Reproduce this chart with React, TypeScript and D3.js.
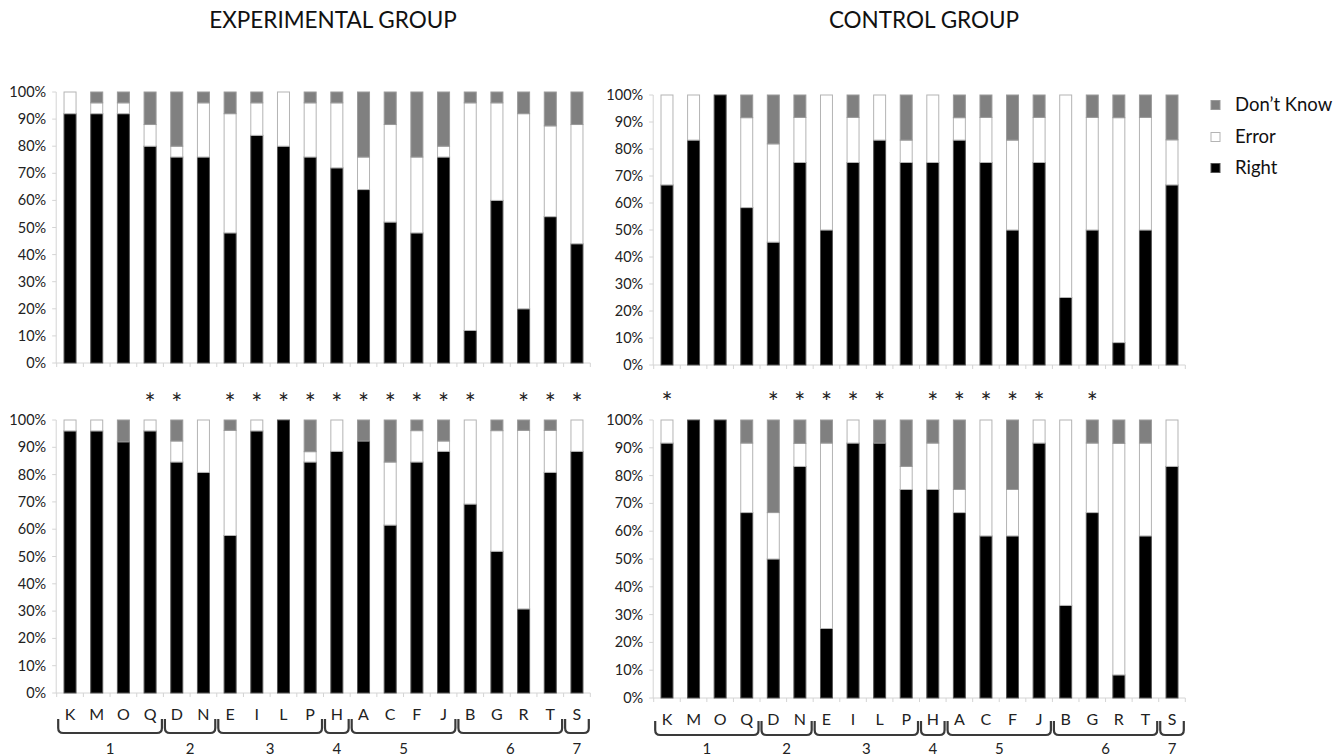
import React, { useEffect, useRef } from 'react';
import * as d3 from 'd3';

// items on the x axis, in order
const categories = ['K', 'M', 'O', 'Q', 'D', 'N', 'E', 'I', 'L', 'P', 'H', 'A', 'C', 'F', 'J', 'B', 'G', 'R', 'T', 'S'];
// group number -> how many consecutive items it covers
const groupLabels = ['1', '2', '3', '4', '5', '6', '7'];
const groupSizes = [4, 2, 4, 1, 4, 4, 1];

const seriesKeys = ['right', 'error', 'dontKnow'];
const legendLabels = ['Don\u2019t Know', 'Error', 'Right'];

// values in percent, one per category
const expTopRight = [92, 92, 92, 80, 76, 76, 48, 84, 80, 76, 72, 64, 52, 48, 76, 12, 60, 20, 54, 44];
const expTopError = [8, 4, 4, 8, 4, 20, 44, 12, 20, 20, 24, 12, 36, 28, 4, 84, 36, 72, 33.5, 44];
const expTopDK = [0, 4, 4, 12, 20, 4, 8, 4, 0, 4, 4, 24, 12, 24, 20, 4, 4, 8, 12.5, 12];

const ctrlTopRight = [66.7, 83.3, 100, 58.3, 45.5, 75, 50, 75, 83.3, 75, 75, 83.3, 75, 50, 75, 25, 50, 8.3, 50, 66.7];
const ctrlTopError = [33.3, 16.7, 0, 33.3, 36.4, 16.7, 50, 16.7, 16.7, 8.3, 25, 8.3, 16.7, 33.3, 16.7, 75, 41.7, 83.3, 41.7, 16.7];
const ctrlTopDK = [0, 0, 0, 8.4, 18.1, 8.3, 0, 8.3, 0, 16.7, 0, 8.4, 8.3, 16.7, 8.3, 0, 8.3, 8.4, 8.3, 16.6];

const expBotRight = [96, 96, 92, 96, 84.6, 80.8, 57.7, 96, 100, 84.6, 88.5, 92.3, 61.5, 84.6, 88.5, 69.2, 51.9, 30.8, 80.8, 88.5];
const expBotError = [4, 4, 0, 4, 7.7, 19.2, 38.5, 4, 0, 3.8, 11.5, 0, 23.1, 11.5, 3.8, 30.8, 44.2, 65.4, 15.4, 11.5];
const expBotDK = [0, 0, 8, 0, 7.7, 0, 3.8, 0, 0, 11.6, 0, 7.7, 15.4, 3.9, 7.7, 0, 3.9, 3.8, 3.8, 0];

const ctrlBotRight = [91.7, 100, 100, 66.7, 50, 83.3, 25, 91.7, 91.7, 75, 75, 66.7, 58.3, 58.3, 91.7, 33.3, 66.7, 8.3, 58.3, 83.3];
const ctrlBotError = [8.3, 0, 0, 25, 16.7, 8.3, 66.7, 8.3, 0, 8.3, 16.7, 8.3, 41.7, 16.7, 8.3, 66.7, 25, 83.3, 33.4, 16.7];
const ctrlBotDK = [0, 0, 0, 8.3, 33.3, 8.4, 8.3, 0, 8.3, 16.7, 8.3, 25, 0, 25, 0, 0, 8.3, 8.4, 8.3, 0];

// items marked with an asterisk above the lower panels
const expStars = ['Q', 'D', 'E', 'I', 'L', 'P', 'H', 'A', 'C', 'F', 'J', 'B', 'R', 'T', 'S'];
const ctrlStars = ['K', 'D', 'N', 'E', 'I', 'L', 'H', 'A', 'C', 'F', 'J', 'G'];

const yTicks = [0, 10, 20, 30, 40, 50, 60, 70, 80, 90, 100];

const FONT = 'Lato, "Open Sans", sans-serif';
const fills = { right: '#000000', error: '#ffffff', dontKnow: '#808080' };
const strokes = { right: '#555555', error: '#b4b4b4', dontKnow: '#9a9a9a' };

function rows(right, error, dk) {
  return categories.map((c, i) => ({ cat: c, right: right[i], error: error[i], dontKnow: dk[i] }));
}

export default function App() {
  const svgRef = useRef(null);

  useEffect(() => {
    const svg = d3.select(svgRef.current);
    svg.selectAll('*').remove();

    const panels = [
      { data: rows(expTopRight, expTopError, expTopDK), x0: 56.7, x1: 590.3, yTop: 92, yBot: 363 },
      { data: rows(ctrlTopRight, ctrlTopError, ctrlTopDK), x0: 653.7, x1: 1185.3, yTop: 95, yBot: 365 },
      { data: rows(expBotRight, expBotError, expBotDK), x0: 56.7, x1: 590.3, yTop: 420, yBot: 693, bottom: true, stars: expStars, starY: 413, labelY: 720, braceY: 719 },
      { data: rows(ctrlBotRight, ctrlBotError, ctrlBotDK), x0: 653.7, x1: 1185.3, yTop: 420, yBot: 698, bottom: true, stars: ctrlStars, starY: 412, labelY: 725, braceY: 721 },
    ];

    const stack = d3.stack().keys(seriesKeys);

    panels.forEach(p => {
      const g = svg.append('g');
      const x = d3.scaleBand().domain(categories).range([p.x0, p.x1]).paddingInner(0.55).paddingOuter(0.275);
      const y = d3.scaleLinear().domain([0, 100]).range([p.yBot, p.yTop]);
      const axisX = p.x0 - 0.5;

      // y axis
      g.append('line')
        .attr('x1', axisX).attr('x2', axisX)
        .attr('y1', y(0)).attr('y2', y(100))
        .attr('stroke', '#d4d4d4');
      g.selectAll('.ytick').data(yTicks).enter().append('line')
        .attr('x1', axisX - 4).attr('x2', axisX)
        .attr('y1', d => y(d)).attr('y2', d => y(d))
        .attr('stroke', '#d4d4d4');
      g.selectAll('.ylab').data(yTicks).enter().append('text')
        .attr('x', axisX - 10).attr('y', d => y(d) + 5)
        .attr('text-anchor', 'end')
        .style('font-family', FONT).style('font-size', '14.5px').attr('fill', '#222')
        .text(d => d + '%');

      // x axis with ticks on band boundaries
      g.append('line')
        .attr('x1', axisX).attr('x2', p.x1)
        .attr('y1', y(0)).attr('y2', y(0))
        .attr('stroke', '#d4d4d4');
      g.selectAll('.xtick').data(d3.range(categories.length + 1)).enter().append('line')
        .attr('x1', i => p.x0 + i * x.step()).attr('x2', i => p.x0 + i * x.step())
        .attr('y1', y(0)).attr('y2', y(0) + 4)
        .attr('stroke', '#d4d4d4');

      // stacked bars
      const stacked = stack(p.data);
      g.selectAll('.layer').data(stacked).enter().append('g')
        .each(function (layer) {
          d3.select(this).selectAll('rect')
            .data(layer.filter(d => d[1] - d[0] > 0))
            .enter().append('rect')
            .attr('x', d => x(d.data.cat))
            .attr('width', x.bandwidth())
            .attr('y', d => y(d[1]))
            .attr('height', d => y(d[0]) - y(d[1]))
            .attr('fill', fills[layer.key])
            .attr('stroke', strokes[layer.key])
            .attr('stroke-width', 1);
        });

      if (!p.bottom) return;

      // significance asterisks
      g.selectAll('.star').data(p.stars).enter().append('text')
        .attr('x', d => x(d) + x.bandwidth() / 2)
        .attr('y', p.starY)
        .attr('text-anchor', 'middle')
        .style('font-family', FONT).style('font-size', '26px').attr('fill', '#222')
        .text('*');

      // category labels
      g.selectAll('.cat').data(categories).enter().append('text')
        .attr('x', d => x(d) + x.bandwidth() / 2)
        .attr('y', p.labelY)
        .attr('text-anchor', 'middle')
        .style('font-family', FONT).style('font-size', '16px').attr('fill', '#222')
        .text(d => d);

      // braces and group numbers
      let start = 0;
      groupSizes.forEach((n, gi) => {
        const bx0 = p.x0 + start * x.step() + 1.5;
        const bx1 = p.x0 + (start + n) * x.step() - 1.5;
        const top = p.braceY;
        const bot = p.braceY + 14;
        const r = 5;
        const path = d3.path();
        path.moveTo(bx0, top);
        path.lineTo(bx0, bot - r);
        path.quadraticCurveTo(bx0, bot, bx0 + r, bot);
        path.lineTo(bx1 - r, bot);
        path.quadraticCurveTo(bx1, bot, bx1, bot - r);
        path.lineTo(bx1, top);
        g.append('path')
          .attr('d', path.toString())
          .attr('fill', 'none')
          .attr('stroke', '#3a3a3a')
          .attr('stroke-width', 2.2);
        g.append('text')
          .attr('x', (bx0 + bx1) / 2)
          .attr('y', 754)
          .attr('text-anchor', 'middle')
          .style('font-family', FONT).style('font-size', '15px').attr('fill', '#222')
          .text(groupLabels[gi]);
        start += n;
      });
    });

    // titles
    svg.append('text').attr('x', 333).attr('y', 28).attr('text-anchor', 'middle')
      .style('font-family', FONT).style('font-size', '22.5px').attr('fill', '#111')
      .text('EXPERIMENTAL GROUP');
    svg.append('text').attr('x', 924).attr('y', 28).attr('text-anchor', 'middle')
      .style('font-family', FONT).style('font-size', '22.5px').attr('fill', '#111')
      .text('CONTROL GROUP');

    // legend
    const legendKeys = ['dontKnow', 'error', 'right'];
    const legendY = [105, 137, 168];
    const lg = svg.append('g');
    legendKeys.forEach((k, i) => {
      lg.append('rect')
        .attr('x', 1211).attr('y', legendY[i] - 4.5)
        .attr('width', 9).attr('height', 9)
        .attr('fill', fills[k]).attr('stroke', strokes[k]);
      lg.append('text')
        .attr('x', 1235).attr('y', legendY[i] + 6)
        .style('font-family', FONT).style('font-size', '18.5px').attr('fill', '#111')
        .text(legendLabels[i]);
    });
  }, []);

  return (
    <svg
      ref={svgRef}
      width={1336}
      height={756}
      style={{ position: 'absolute', left: 0, top: 0, background: '#fff' }}
    />
  );
}
